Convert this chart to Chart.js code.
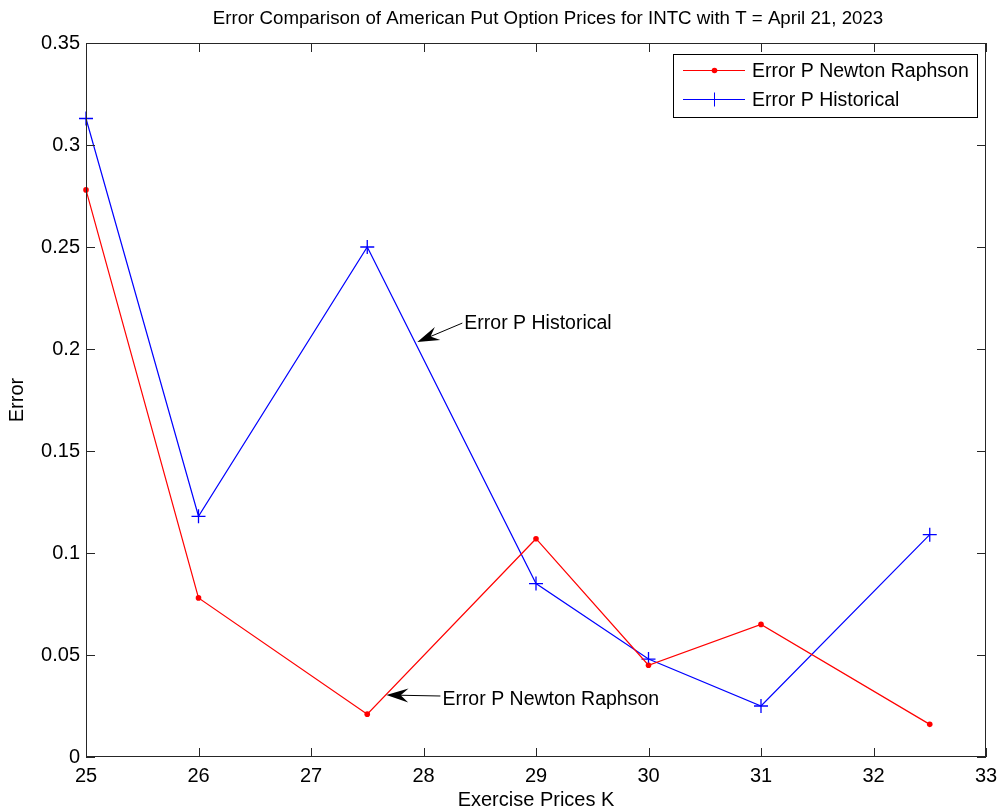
<!DOCTYPE html>
<html>
<head>
<meta charset="utf-8">
<script src="https://cdn.jsdelivr.net/npm/chart.js@4/dist/chart.umd.min.js"></script>
<style>
  body { margin: 0; background: #fff; }
  #wrap { width: 1000px; height: 812px; }
</style>
</head>
<body>
<div id="wrap"><canvas id="errorChart" width="1000" height="812"></canvas></div>
<script>
// data
var strikes = [25, 26, 27.5, 29, 30, 31, 32.5];
var errNewton = [0.278, 0.078, 0.021, 0.107, 0.045, 0.065, 0.016];
var errHistorical = [0.313, 0.118, 0.250, 0.085, 0.048, 0.025, 0.109];
var xTickLabels = ['25', '26', '27', '28', '29', '30', '31', '32', '33'];
var yTickLabels = ['0', '0.05', '0.1', '0.15', '0.2', '0.25', '0.3', '0.35'];
var seriesNames = ['Error P Newton Raphson', 'Error P Historical'];
var chartTitle = 'Error Comparison of American Put Option Prices for INTC with T = April 21, 2023';

// annotations: text start and arrow tip, in data units
var notes = [
    { text: 'Error P Historical', from: [28.345, 0.2127], to: [27.945, 0.2034] },
    { text: 'Error P Newton Raphson', from: [28.15, 0.0299], to: [27.67, 0.0304] }
];

var font = '"Liberation Sans", Arial, sans-serif';

function toPoints(xs, ys) {
    return xs.map(function (x, i) { return { x: x, y: ys[i] }; });
}

// matlab style annotation arrow (barbed, filled head)
function arrow(ctx, x0, y0, x1, y1) {
    var ang = Math.atan2(y1 - y0, x1 - x0);
    var c = Math.cos(ang), s = Math.sin(ang);
    var len = 22, wid = 7;
    ctx.beginPath();
    ctx.moveTo(x0, y0);
    ctx.lineTo(x1 - c * 12, y1 - s * 12);
    ctx.stroke();
    var bx = x1 - c * len, by = y1 - s * len;
    var mx = x1 - c * len * 0.65, my = y1 - s * len * 0.65;
    ctx.beginPath();
    ctx.moveTo(x1, y1);
    ctx.lineTo(bx + s * wid, by - c * wid);
    ctx.lineTo(mx, my);
    ctx.lineTo(bx - s * wid, by + c * wid);
    ctx.closePath();
    ctx.fill();
}

var matlabLook = {
    id: 'matlabLook',
    afterDraw: function (chart) {
        var ctx = chart.ctx;
        var a = chart.chartArea;
        var xs = chart.scales.x, ys = chart.scales.y;
        ctx.save();

        // title
        ctx.fillStyle = '#000';
        ctx.font = '18.7px ' + font;
        ctx.textAlign = 'center';
        ctx.textBaseline = 'middle';
        ctx.fillText(chartTitle, (a.left + a.right) / 2 + 12, 19);

        // box and inward ticks
        ctx.strokeStyle = '#262626';
        ctx.lineWidth = 1;
        ctx.strokeRect(a.left + 0.5, a.top + 0.5, a.right - a.left - 1, a.bottom - a.top - 1);
        ctx.beginPath();
        xs.ticks.forEach(function (t) {
            var px = Math.round(xs.getPixelForValue(t.value)) + 0.5;
            ctx.moveTo(px, a.bottom); ctx.lineTo(px, a.bottom - 9);
            ctx.moveTo(px, a.top); ctx.lineTo(px, a.top + 9);
        });
        ys.ticks.forEach(function (t) {
            var py = Math.round(ys.getPixelForValue(t.value)) + 0.5;
            ctx.moveTo(a.left, py); ctx.lineTo(a.left + 9, py);
            ctx.moveTo(a.right, py); ctx.lineTo(a.right - 9, py);
        });
        ctx.stroke();

        // annotations
        ctx.strokeStyle = '#000';
        ctx.fillStyle = '#000';
        ctx.font = '19.5px ' + font;
        ctx.textAlign = 'left';
        notes.forEach(function (n, i) {
            var x0 = xs.getPixelForValue(n.from[0]), y0 = ys.getPixelForValue(n.from[1]);
            var x1 = xs.getPixelForValue(n.to[0]), y1 = ys.getPixelForValue(n.to[1]);
            arrow(ctx, x0, y0, x1, y1);
            ctx.fillText(n.text, x0 + 2, y0 + (i === 1 ? 4 : 1));
        });

        // legend box, top right inside the axes
        var lx = a.right - 313, ly = a.top + 11, lw = 304, lh = 63;
        ctx.fillStyle = '#fff';
        ctx.fillRect(lx, ly, lw, lh);
        ctx.strokeStyle = '#000';
        ctx.strokeRect(lx + 0.5, ly + 0.5, lw, lh);
        chart.data.datasets.forEach(function (ds, i) {
            var yy = ly + 16.5 + i * 29;
            ctx.strokeStyle = ds.borderColor;
            ctx.beginPath();
            ctx.moveTo(lx + 10, yy); ctx.lineTo(lx + 72, yy);
            ctx.stroke();
            if (ds.pointStyle === 'cross') {
                ctx.beginPath();
                ctx.moveTo(lx + 41.5, yy - 7); ctx.lineTo(lx + 41.5, yy + 7);
                ctx.stroke();
            } else {
                ctx.fillStyle = ds.borderColor;
                ctx.beginPath();
                ctx.arc(lx + 41.5, yy, 2.8, 0, Math.PI * 2);
                ctx.fill();
            }
            ctx.fillStyle = '#000';
            ctx.fillText(ds.label, lx + 79, yy + 1);
        });
        ctx.restore();
    }
};

new Chart(document.getElementById('errorChart').getContext('2d'), {
    type: 'line',
    data: {
        datasets: [{
            label: seriesNames[0],
            data: toPoints(strikes, errNewton),
            borderColor: '#ff0000',
            backgroundColor: '#ff0000',
            borderWidth: 1.2,
            pointStyle: 'circle',
            pointRadius: 2.8,
            pointBorderWidth: 0,
            tension: 0,
            fill: false
        }, {
            label: seriesNames[1],
            data: toPoints(strikes, errHistorical),
            borderColor: '#0000ff',
            backgroundColor: '#0000ff',
            borderWidth: 1.2,
            pointStyle: 'cross',
            pointRadius: 7,
            pointBorderWidth: 1.3,
            tension: 0,
            fill: false
        }]
    },
    options: {
        responsive: false,
        animation: false,
        clip: false,
        layout: { padding: { top: 43, right: 14, left: 0, bottom: 0 } },
        plugins: {
            legend: { display: false },
            title: { display: false },
            tooltip: { enabled: false }
        },
        scales: {
            x: {
                type: 'linear',
                min: 25,
                max: 33,
                grid: { display: false, drawTicks: false },
                border: { display: false },
                ticks: {
                    stepSize: 1,
                    padding: 7,
                    color: '#000',
                    font: { family: font, size: 20 },
                    callback: function (v) { return xTickLabels[Math.round(v - 25)]; }
                },
                title: {
                    display: true,
                    text: 'Exercise Prices K',
                    color: '#000',
                    font: { family: font, size: 20 },
                    padding: { top: 0, bottom: 0 }
                },
                afterFit: function (s) {
                    s.height = 55;
                    s.paddingLeft = 0;
                    s.paddingRight = 0;
                }
            },
            y: {
                min: 0,
                max: 0.35,
                grid: { display: false, drawTicks: false },
                border: { display: false },
                ticks: {
                    stepSize: 0.05,
                    padding: 6,
                    color: '#000',
                    font: { family: font, size: 20 },
                    callback: function (v) { return yTickLabels[Math.round(v / 0.05)]; }
                },
                title: {
                    display: true,
                    text: 'Error',
                    color: '#000',
                    font: { family: font, size: 20 },
                    padding: { top: 5, bottom: 0 }
                },
                afterFit: function (s) { s.width = 86; }
            }
        }
    },
    plugins: [matlabLook]
});
</script>
</body>
</html>
